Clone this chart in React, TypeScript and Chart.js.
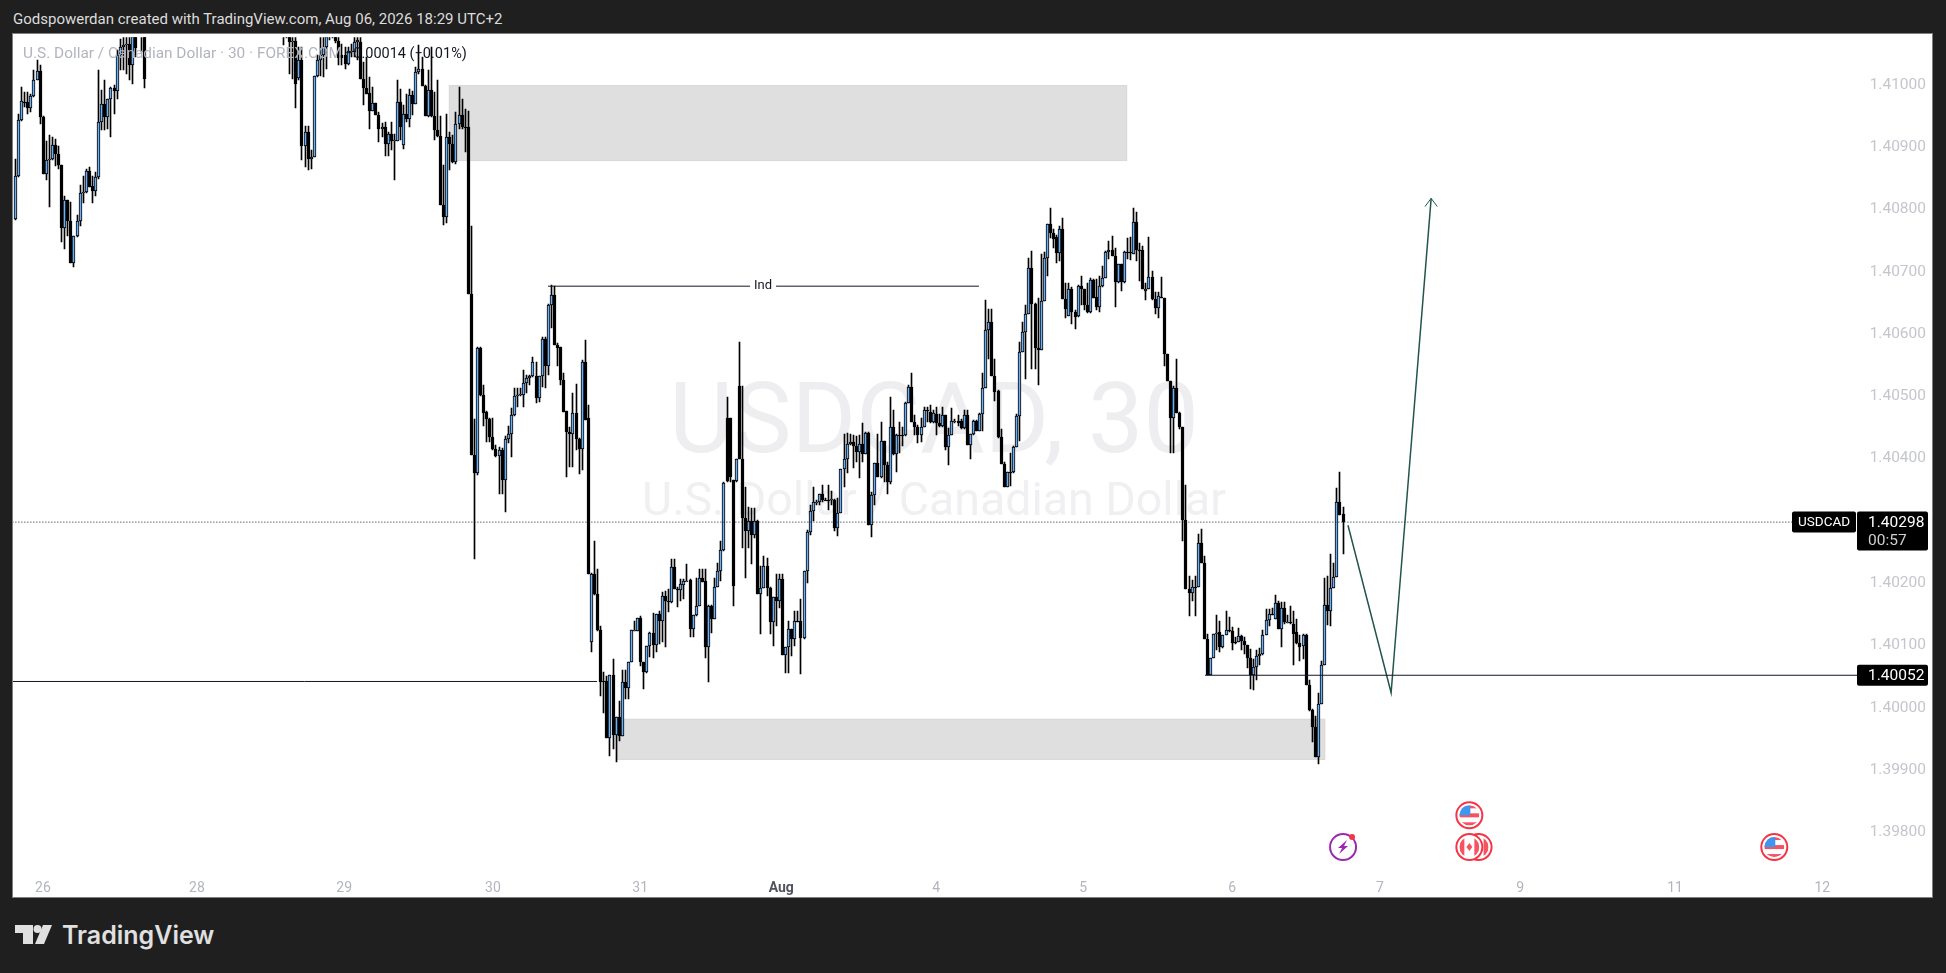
import { useEffect, useRef } from 'react';
import { Chart } from 'chart.js/auto';

// All OHLC values are points (0.00001) above 1.39000
const BASE_PRICE = 1.39;
const price = (pts: number) => BASE_PRICE + pts / 100000;

const opens = [
  1785,1854,1944,1973,1973,1964,1982,2008,2022,1949,
  1857,1879,1882,1904,1889,1872,1771,1815,1782,1714,
  1757,1782,1827,1829,1862,1838,1830,1853,1941,1969,
  1949,1977,1996,1990,2049,2061,2065,2066,2033,2100,
  2100,2120,2130,
  2090,2095,2100,2069,2071,2012,2041,1902,1925,1882,1884,
  2014,2040,2048,2061,2080,2095,2085,2071,2048,2048,
  2034,2053,2053,2069,2069,2010,1996,1987,1959,1971,1952,
  1929,1933,1906,1921,1911,1911,1973,1904,1953,1946,
  1984,1970,2021,2026,1999,1951,1992,1950,1928,1918,
  1808,1788,1917,1905,1877,1938,1952,1932,1932,
  1664,1406,1377,1578,1502,1475,1463,1434,1415,1404,
  1414,1365,1432,1439,1470,1500,1503,1502,1521,1529,
  1532,1532,1497,1532,1592,1548,1647,1663,1583,1579,
  1527,1476,1443,1439,1473,1432,1415,1556,1465,1105,
  1214,1182,1124,1042,1043,952,1052,956,985,955,
  1041,1031,1073,1124,1123,1144,1073,1057,1099,1120,
  1100,1150,1139,1179,1171,1169,1226,1191,1189,1197,
  1203,1205,1126,1148,1164,1209,1203,1097,1164,1142,
  1193,1220,1254,1466,1466,1366,1364,1517,1399,1304,
  1284,1300,1278,1300,1183,1192,1227,1192,1138,1177,1171,
  1207,1085,1097,1126,1110,1139,1139,1112,1219,1282,
  1316,1330,1331,1343,1334,1334,1334,1334,1289,1313,1384,
  1400,1424,1426,1421,1410,1423,1408,1441,1294,1342,
  1393,1370,1428,1390,1362,1451,1407,1438,1438,1438,1490,
  1515,1459,1451,1438,1451,1478,1475,1459,1471,1458,
  1453,1470,1418,1438,1460,1461,1461,1449,1470,1422,1439,
  1460,1444,1472,1513,1607,1619,1532,1509,1435,1392,
  1354,1378,1378,1419,1469,1572,1603,1633,1707,1649,
  1578,1575,1654,1723,1777,1762,1756,1731,1769,1657,
  1629,1673,1635,1629,1678,1672,1646,1635,1687,1659,
  1643,1677,1690,1732,1735,1726,1683,1712,1684,1732,
  1732,1729,1780,1735,1735,1670,1672,1692,1656,1642,
  1660,1658,1568,1524,1466,1514,1473,1450,1301,1190,
  1184,1194,1193,1264,1233,1111,1052,1079,1119,1121,
  1097,1116,1125,1123,1105,1105,1115,1107,1100,1079,
  1052,1066,1083,1086,1116,1140,1150,1143,1168,1127,
  1160,1137,1137,1134,1121,1104,1099,1117,1036,996,
  969,921,1006,1069,1165,1155,1192,1210,1331,1311,
];

const highs = [
  1882,1953,1997,1989,1989,1986,2025,2040,2033,1950,
  1911,1920,1917,1914,1902,1872,1822,1816,1813,1757,
  1792,1840,1854,1865,1869,1854,1860,2025,1992,2009,
  1978,1997,2000,2056,2074,2080,2085,2090,2110,2110,
  2130,2140,2140,
  2110,2110,2110,2085,2090,2061,2061,1934,1934,1895,2014,
  2048,2077,2090,2095,2110,2110,2095,2085,2066,2062,
  2062,2066,2085,2085,2085,2037,2045,2013,1997,1971,1957,
  1939,1941,1925,1941,1922,2009,1994,1968,1986,1994,
  1990,2029,2064,2045,2000,2024,2061,1989,2008,1950,
  1872,1954,1925,1920,1957,1997,1978,1962,1958,
  1773,1464,1580,1580,1518,1476,1465,1465,1422,1419,
  1417,1437,1453,1481,1513,1513,1514,1543,1534,1534,
  1563,1556,1533,1595,1595,1649,1679,1677,1585,1579,
  1537,1476,1451,1506,1520,1433,1558,1590,1486,1216,
  1268,1222,1131,1057,1051,1053,1078,985,1011,1060,
  1060,1074,1124,1139,1144,1147,1074,1099,1121,1152,
  1151,1156,1185,1187,1190,1238,1238,1194,1206,1206,
  1230,1206,1149,1209,1222,1222,1222,1165,1165,1209,
  1233,1267,1363,1499,1466,1366,1400,1588,1517,1355,
  1323,1321,1320,1302,1227,1244,1241,1193,1178,1214,1214,
  1215,1098,1139,1126,1155,1155,1174,1219,1286,1326,
  1354,1334,1343,1358,1336,1358,1348,1335,1337,1384,1439,
  1441,1439,1438,1437,1438,1457,1442,1442,1347,1393,
  1439,1459,1428,1395,1499,1478,1440,1459,1450,1491,1518,
  1537,1470,1454,1465,1483,1483,1486,1478,1483,1471,
  1483,1470,1449,1482,1463,1470,1463,1478,1478,1440,1462,
  1462,1473,1537,1655,1641,1641,1560,1510,1448,1395,
  1378,1409,1421,1472,1587,1620,1646,1722,1734,1650,
  1658,1729,1732,1777,1802,1769,1759,1774,1787,1682,
  1682,1676,1638,1679,1694,1673,1682,1690,1688,1688,
  1694,1709,1734,1750,1757,1739,1712,1712,1734,1755,
  1756,1802,1796,1747,1741,1682,1756,1702,1667,1667,
  1692,1658,1568,1524,1516,1560,1475,1450,1357,1212,
  1205,1211,1279,1287,1243,1119,1079,1119,1149,1139,
  1116,1155,1146,1129,1113,1128,1116,1113,1100,1094,
  1078,1092,1095,1125,1158,1159,1160,1181,1172,1169,
  1169,1148,1163,1155,1143,1116,1119,1119,1045,997,
  986,1024,1075,1209,1211,1246,1232,1353,1378,1323,
];

const lows = [
  1783,1853,1943,1965,1954,1957,1981,2008,1937,1857,
  1848,1804,1880,1870,1865,1748,1736,1757,1714,1708,
  1756,1773,1810,1826,1837,1810,1822,1849,1928,1928,
  1930,1917,1954,1978,2024,2024,2018,2009,2001,2045,
  2085,2053,1996,
  2064,2076,2018,2010,1964,2008,1880,1869,1864,1866,1884,
  2013,2014,2013,2026,2072,2075,2068,2032,2033,2026,
  2032,2045,2045,2040,2010,1968,1985,1929,1959,1952,1909,
  1917,1886,1886,1895,1848,1911,1912,1898,1941,1933,
  1952,1970,2018,1998,1951,1949,1949,1912,1917,1808,
  1776,1779,1864,1875,1874,1930,1930,1893,1664,
  1406,1238,1373,1500,1453,1427,1426,1414,1403,1343,
  1343,1314,1425,1402,1469,1483,1501,1483,1506,1518,
  1531,1490,1491,1515,1514,1534,1610,1583,1549,1518,
  1475,1371,1387,1386,1414,1375,1382,1462,1215,1089,
  1181,1123,1018,991,952,923,934,912,947,955,
  1014,1014,1073,1123,1123,1067,1030,1056,1081,1079,
  1090,1103,1106,1097,1153,1168,1190,1162,1171,1174,
  1203,1114,1113,1147,1163,1202,1080,1041,1120,1142,
  1193,1204,1251,1363,1363,1163,1363,1399,1256,1208,
  1257,1231,1272,1182,1119,1192,1179,1118,1099,1131,1160,
  1085,1055,1055,1083,1099,1138,1054,1111,1201,1278,
  1299,1326,1326,1331,1333,1318,1325,1283,1276,1312,1355,
  1377,1422,1385,1395,1369,1395,1408,1294,1274,1326,
  1370,1369,1363,1343,1360,1406,1379,1409,1420,1437,1490,
  1459,1438,1425,1427,1451,1459,1457,1457,1438,1451,
  1451,1414,1390,1438,1458,1452,1448,1448,1422,1400,1438,
  1444,1444,1445,1513,1560,1532,1492,1433,1392,1354,
  1354,1356,1377,1419,1429,1572,1528,1633,1544,1544,
  1519,1575,1654,1694,1755,1738,1715,1718,1657,1626,
  1629,1617,1609,1628,1646,1638,1634,1634,1658,1638,
  1636,1676,1690,1720,1725,1643,1682,1670,1682,1720,
  1719,1729,1717,1685,1672,1655,1672,1655,1632,1626,
  1658,1549,1524,1409,1409,1473,1448,1267,1190,1147,
  1171,1147,1193,1233,1110,1052,1052,1079,1092,1089,
  1095,1116,1122,1093,1103,1105,1092,1086,1063,1030,
  1028,1045,1069,1085,1116,1131,1148,1143,1126,1098,
  1134,1136,1134,1069,1103,1075,1078,1036,994,944,
  921,909,1006,1069,1133,1131,1192,1210,1310,1246,
];

const closes = [
  1854,1944,1974,1972,1964,1982,2008,2022,1948,1857,
  1880,1882,1904,1889,1872,1771,1815,1782,1714,1757,
  1782,1827,1829,1862,1837,1830,1853,1941,1969,1949,
  1977,1996,1990,2049,2061,2065,2066,2033,2100,2060,
  2120,2130,2010,
  2095,2100,2069,2071,2001,2041,1902,1925,1881,1885,2014,
  2040,2048,2061,2080,2095,2090,2071,2044,2044,2034,
  2055,2055,2069,2072,2010,1996,1985,1959,1971,1952,1929,
  1933,1906,1921,1911,1912,1973,1932,1953,1946,1984,
  1970,2021,2026,1999,1951,1992,1950,1928,1918,1808,
  1788,1917,1905,1877,1938,1952,1932,1931,1664,
  1406,1377,1578,1502,1474,1463,1434,1415,1404,1414,
  1365,1432,1439,1470,1500,1503,1504,1521,1529,1532,
  1555,1497,1532,1592,1548,1647,1663,1583,1578,1527,
  1475,1443,1439,1473,1432,1415,1556,1462,1215,1214,
  1182,1124,1041,1042,952,1052,956,985,955,1041,
  1031,1073,1124,1125,1144,1073,1057,1099,1120,1100,
  1150,1139,1179,1171,1169,1226,1191,1191,1198,1203,
  1204,1126,1148,1164,1209,1202,1097,1164,1142,1193,
  1220,1254,1361,1364,1370,1195,1399,1399,1304,1284,
  1300,1278,1300,1183,1192,1227,1192,1138,1177,1171,1207,
  1085,1097,1126,1110,1139,1139,1112,1219,1282,1316,
  1330,1331,1343,1334,1334,1334,1335,1289,1313,1384,1400,
  1424,1426,1421,1410,1423,1408,1441,1294,1342,1393,
  1370,1428,1390,1362,1451,1407,1438,1438,1438,1490,1515,
  1459,1451,1438,1451,1478,1476,1459,1474,1458,1453,
  1470,1418,1438,1460,1461,1458,1449,1470,1422,1439,1460,
  1444,1471,1513,1607,1619,1532,1507,1435,1392,1354,
  1378,1378,1419,1469,1572,1603,1633,1707,1649,1578,
  1575,1654,1723,1777,1762,1753,1731,1769,1657,1641,
  1673,1635,1627,1678,1672,1646,1635,1687,1658,1643,
  1677,1690,1732,1735,1725,1683,1712,1684,1732,1732,
  1732,1780,1735,1735,1672,1673,1692,1656,1642,1661,
  1660,1568,1524,1466,1514,1473,1450,1301,1190,1184,
  1194,1194,1264,1233,1110,1052,1079,1118,1120,1097,
  1116,1125,1125,1104,1105,1115,1107,1100,1079,1052,
  1066,1083,1086,1116,1140,1150,1150,1168,1127,1160,
  1137,1138,1137,1119,1104,1098,1117,1036,996,969,
  921,1006,1069,1165,1155,1192,1210,1331,1310,1298,
];

// Bars that sit above the visible range on Jul 27 are not drawn
const VISIBLE_BEFORE_GAP = 43;
const OFFSCREEN_BARS = 44;
const barSlot = (i: number) => (i < VISIBLE_BEFORE_GAP ? i : i + OFFSCREEN_BARS);

const timeTickSlots = [8.9, 58.9, 106.7, 155, 202.8, 248.6, 298.9, 346.6, 395, 443, 488.5, 538.8, 586.6];
const timeTickLabels = ['26', '28', '29', '30', '31', 'Aug', '4', '5', '6', '7', '9', '11', '12'];
const priceTicks = [1.398, 1.399, 1.4, 1.401, 1.402, 1.403, 1.404, 1.405, 1.406, 1.407, 1.408, 1.409, 1.41];

const LAST_PRICE = 1298;
const LEVEL_PRICE = 1052;
const SWEEP_PRICE = 1042;
const IND_PRICE = 1677;

// supply / demand boxes: [from slot, to slot, top pts, bottom pts]
const zoneFrom = [140.7, 195.3];
const zoneTo = [360.9, 425.2];
const zoneTop = [2000, 982];
const zoneBottom = [1878, 916];

const projectionSlots = [432.6, 446.6, 459.6];
const projectionPts = [1293, 1024, 1818];
const arrowSlots = [457.6, 459.6, 461.6];
const arrowPts = [1805, 1818, 1805];

const eventKinds = ['power', 'us', 'ca2', 'ca', 'us'];
const eventSlots = [431, 472, 475, 472, 571];
const eventPts = [776, 827, 776, 776, 776];

const CANVAS_W = 1919;
const CANVAS_H = 863;
const FONT = 'Roboto, sans-serif';
const BLUE = '#6eaef2';
const INK = '#131722';
const GREEN = '#23554c';

function drawFlag(ctx: CanvasRenderingContext2D, kind: string, x: number, y: number) {
  const r = 13;
  ctx.save();
  ctx.beginPath();
  ctx.arc(x, y, r, 0, Math.PI * 2);
  ctx.fillStyle = '#fff';
  ctx.fill();
  ctx.lineWidth = 2;
  if (kind === 'power') {
    ctx.strokeStyle = '#9c27b0';
    ctx.stroke();
    ctx.fillStyle = '#9c27b0';
    ctx.beginPath();
    ctx.moveTo(x + 4, y - 7);
    ctx.lineTo(x - 5, y + 1);
    ctx.lineTo(x - 1, y + 1);
    ctx.lineTo(x - 4, y + 7);
    ctx.lineTo(x + 5, y - 1);
    ctx.lineTo(x + 1, y - 1);
    ctx.closePath();
    ctx.fill();
    ctx.fillStyle = '#f23645';
    ctx.beginPath();
    ctx.arc(x + 9, y - 10, 3, 0, Math.PI * 2);
    ctx.fill();
    ctx.restore();
    return;
  }
  ctx.strokeStyle = '#f23645';
  ctx.stroke();
  ctx.beginPath();
  ctx.arc(x, y, r - 3, 0, Math.PI * 2);
  ctx.clip();
  if (kind === 'us') {
    ctx.fillStyle = '#f7525f';
    ctx.fillRect(x - 10, y - 10, 20, 3);
    ctx.fillRect(x - 10, y - 2, 20, 4);
    ctx.fillRect(x - 10, y + 7, 20, 4);
    ctx.fillStyle = '#3d96f0';
    ctx.fillRect(x - 10, y - 10, 11, 10);
  } else {
    ctx.fillStyle = '#f7525f';
    ctx.fillRect(x - 10, y - 10, 5, 20);
    ctx.fillRect(x + 5, y - 10, 5, 20);
    if (kind === 'ca') {
      ctx.beginPath();
      ctx.moveTo(x, y - 4);
      ctx.lineTo(x + 3, y);
      ctx.lineTo(x, y + 4);
      ctx.lineTo(x - 3, y);
      ctx.closePath();
      ctx.fill();
    }
  }
  ctx.restore();
}

function badge(ctx: CanvasRenderingContext2D, x: number, y: number, w: number, h: number) {
  ctx.fillStyle = '#000';
  ctx.beginPath();
  ctx.roundRect(x, y, w, h, 2);
  ctx.fill();
}

// snap candles to whole pixels, the way the original renders them
const snapBars = {
  id: 'snapBars',
  afterDatasetsUpdate(chart: any) {
    chart.data.datasets.forEach((ds: any, i: number) => {
      if (ds.type === 'line') return;
      chart.getDatasetMeta(i).data.forEach((el: any) => {
        el.x = Math.floor(el.x) + 0.5;
        el.y = Math.round(el.y);
        el.base = Math.round(el.base);
        if (Math.abs(el.base - el.y) < 1) el.base = el.y + 1;
      });
    });
  },
};

const backdrop = {
  id: 'backdrop',
  beforeDatasetsDraw(chart: any) {
    const { ctx, scales } = chart;
    const { x, y } = scales;
    ctx.save();
    ctx.textAlign = 'center';
    ctx.textBaseline = 'alphabetic';
    ctx.fillStyle = '#eeeef0';
    ctx.font = `98.5px ${FONT}`;
    ctx.fillText('USDCAD, 30', 921, 418);
    ctx.fillStyle = '#f0f0f2';
    ctx.font = `46.5px ${FONT}`;
    ctx.fillText('U.S. Dollar / Canadian Dollar', 921, 481);
    zoneFrom.forEach((from, i) => {
      const left = x.getPixelForValue(from);
      const right = x.getPixelForValue(zoneTo[i]);
      const top = y.getPixelForValue(price(zoneTop[i]));
      const bottom = y.getPixelForValue(price(zoneBottom[i]));
      ctx.fillStyle = '#dfdfdf';
      ctx.fillRect(left, top, right - left, bottom - top);
      ctx.strokeStyle = '#d9d9d9';
      ctx.lineWidth = 1;
      ctx.strokeRect(left + 0.5, top + 0.5, right - left - 1, bottom - top - 1);
    });
    ctx.restore();
  },
};

const overlays = {
  id: 'overlays',
  afterDraw(chart: any) {
    const { ctx, scales } = chart;
    const { x, y } = scales;
    ctx.save();

    // "Ind" label breaks its line
    const indX = x.getPixelForValue(242.7);
    const indY = y.getPixelForValue(price(IND_PRICE));
    ctx.fillStyle = '#fff';
    ctx.fillRect(indX - 13, indY - 8, 26, 16);
    ctx.fillStyle = INK;
    ctx.font = `13px ${FONT}`;
    ctx.textAlign = 'center';
    ctx.textBaseline = 'middle';
    ctx.fillText('Ind', indX, indY);

    // symbol legend
    ctx.textAlign = 'left';
    ctx.font = `15.4px ${FONT}`;
    ctx.fillStyle = '#b2b5be';
    ctx.fillText('U.S. Dollar / Canadian Dollar · 30 · FOREX.COM', 10, 20);
    ctx.fillStyle = INK;
    ctx.font = `14.5px ${FONT}`;
    ctx.fillText('−0.00014 (−0.01%)', 332, 20);

    // last price and level badges
    const lastY = y.getPixelForValue(price(LAST_PRICE));
    const levelY = y.getPixelForValue(price(LEVEL_PRICE));
    badge(ctx, 1779, lastY - 10.5, 64, 21);
    badge(ctx, 1844, lastY - 10.5, 71, 39);
    badge(ctx, 1844, levelY - 10.5, 71, 21);
    ctx.textAlign = 'left';
    ctx.fillStyle = '#fff';
    ctx.font = `13.5px ${FONT}`;
    ctx.fillText('USDCAD', 1785, lastY + 1);
    ctx.font = `15.5px ${FONT}`;
    ctx.fillText('1.40298', 1855, lastY + 1);
    ctx.fillText('1.40052', 1855, levelY + 1);
    ctx.fillStyle = '#cfcfcf';
    ctx.fillText('00:57', 1855, lastY + 19);

    // calendar events along the bottom
    eventKinds.forEach((kind, i) => {
      drawFlag(ctx, kind, x.getPixelForValue(eventSlots[i]), y.getPixelForValue(price(eventPts[i])));
    });
    ctx.restore();
  },
};

function UsdCadChart() {
  const canvasRef = useRef<HTMLCanvasElement>(null);

  useEffect(() => {
    if (!canvasRef.current) return;
    const wickData = opens.map((_, i) => ({ x: barSlot(i), y: [price(lows[i]), price(highs[i])] }));
    const bodyData = opens.map((o, i) => ({ x: barSlot(i), y: [price(o), price(closes[i])] }));
    const bodyColors = opens.map((o, i) => (closes[i] > o ? BLUE : '#000'));
    const level = (from: number, to: number, pts: number) => [
      { x: from, y: price(pts) },
      { x: to, y: price(pts) },
    ];
    const lineStyle = { type: 'line', pointRadius: 0, tension: 0, order: 0, fill: false };

    const chart = new Chart(canvasRef.current, {
      type: 'bar',
      data: {
        datasets: [
          { label: 'Wicks', data: wickData, backgroundColor: '#000', barThickness: 1, grouped: false, order: 2 },
          {
            label: 'USDCAD',
            data: bodyData,
            backgroundColor: bodyColors,
            borderColor: '#000',
            borderWidth: 1,
            borderSkipped: false,
            barThickness: 3,
            grouped: false,
            order: 1,
          },
          { ...lineStyle, label: 'Last', data: level(-1, 576.8, LAST_PRICE), borderColor: INK, borderWidth: 1, borderDash: [1, 2] },
          { ...lineStyle, label: 'Sweep', data: level(-1, 188.8, SWEEP_PRICE), borderColor: INK, borderWidth: 1 },
          { ...lineStyle, label: 'Ind', data: level(172.9, 312.8, IND_PRICE), borderColor: INK, borderWidth: 1 },
          { ...lineStyle, label: 'Level', data: level(386.2, 597.9, LEVEL_PRICE), borderColor: INK, borderWidth: 1 },
          {
            ...lineStyle,
            label: 'Projection',
            data: projectionSlots.map((s, i) => ({ x: s, y: price(projectionPts[i]) })),
            borderColor: GREEN,
            borderWidth: 1.5,
          },
          {
            ...lineStyle,
            label: 'Arrow',
            data: arrowSlots.map((s, i) => ({ x: s, y: price(arrowPts[i]) })),
            borderColor: GREEN,
            borderWidth: 1,
          },
        ] as any,
      },
      options: {
        responsive: false,
        devicePixelRatio: 1,
        animation: false,
        events: [],
        layout: { padding: 0, autoPadding: false },
        plugins: { legend: { display: false }, tooltip: { enabled: false }, title: { display: false } },
        scales: {
          x: {
            type: 'linear',
            min: -0.8,
            max: 622.2,
            offset: false,
            grid: { display: false },
            border: { display: false },
            afterBuildTicks: (scale: any) => {
              scale.ticks = timeTickSlots.map((value) => ({ value }));
            },
            afterFit: (scale: any) => {
              scale.height = 32;
            },
            ticks: {
              autoSkip: false,
              maxRotation: 0,
              padding: 7,
              callback: (value: any) => timeTickLabels[timeTickSlots.indexOf(value)],
              color: (c: any) => (timeTickLabels[c.index] === 'Aug' ? '#50535e' : '#b2b5be'),
              font: (c: any) => ({ family: FONT, size: 14, weight: timeTickLabels[c.index] === 'Aug' ? 'bold' : 'normal' }),
            },
          },
          y: {
            type: 'linear',
            position: 'right',
            min: price(747.2),
            max: price(2076.8),
            grid: { display: false },
            border: { display: false },
            afterBuildTicks: (scale: any) => {
              scale.ticks = priceTicks.map((value) => ({ value }));
            },
            afterFit: (scale: any) => {
              scale.width = 0;
            },
            ticks: {
              mirror: true,
              padding: -6,
              autoSkip: false,
              callback: (value: any) => Number(value).toFixed(5),
              color: '#c4c6cc',
              font: { family: FONT, size: 15.5 },
            },
          },
        },
      } as any,
      plugins: [snapBars, backdrop, overlays],
    });
    return () => chart.destroy();
  }, []);

  return (
    <canvas
      ref={canvasRef}
      width={CANVAS_W}
      height={CANVAS_H}
      style={{ position: 'absolute', left: 13, top: 34, background: '#fff', outline: '1px solid #7f7f7f' }}
    />
  );
}

export default function App() {
  return (
    <div style={{ position: 'fixed', left: 0, top: 0, width: 1946, height: 973, background: '#1f1f1f', overflow: 'hidden' }}>
      <div style={{ position: 'absolute', left: 13, top: 10, color: '#dcdcdc', font: `15px ${FONT}`, whiteSpace: 'nowrap' }}>
        Godspowerdan created with TradingView.com, Aug 06, 2026 18:29 UTC+2
      </div>
      <UsdCadChart />
      <svg style={{ position: 'absolute', left: 15, top: 925 }} width={38} height={20} viewBox="0 0 38 20">
        <path d="M0 0H18V19H8V8H0Z" fill="#e0e0e0" />
        <circle cx="22.5" cy="4" r="4" fill="#e0e0e0" />
        <path d="M28 0H37L29 19H20Z" fill="#e0e0e0" />
      </svg>
      <div style={{ position: 'absolute', left: 62, top: 920, color: '#e0e0e0', font: `600 25px Inter, sans-serif`, whiteSpace: 'nowrap' }}>
        TradingView
      </div>
    </div>
  );
}
